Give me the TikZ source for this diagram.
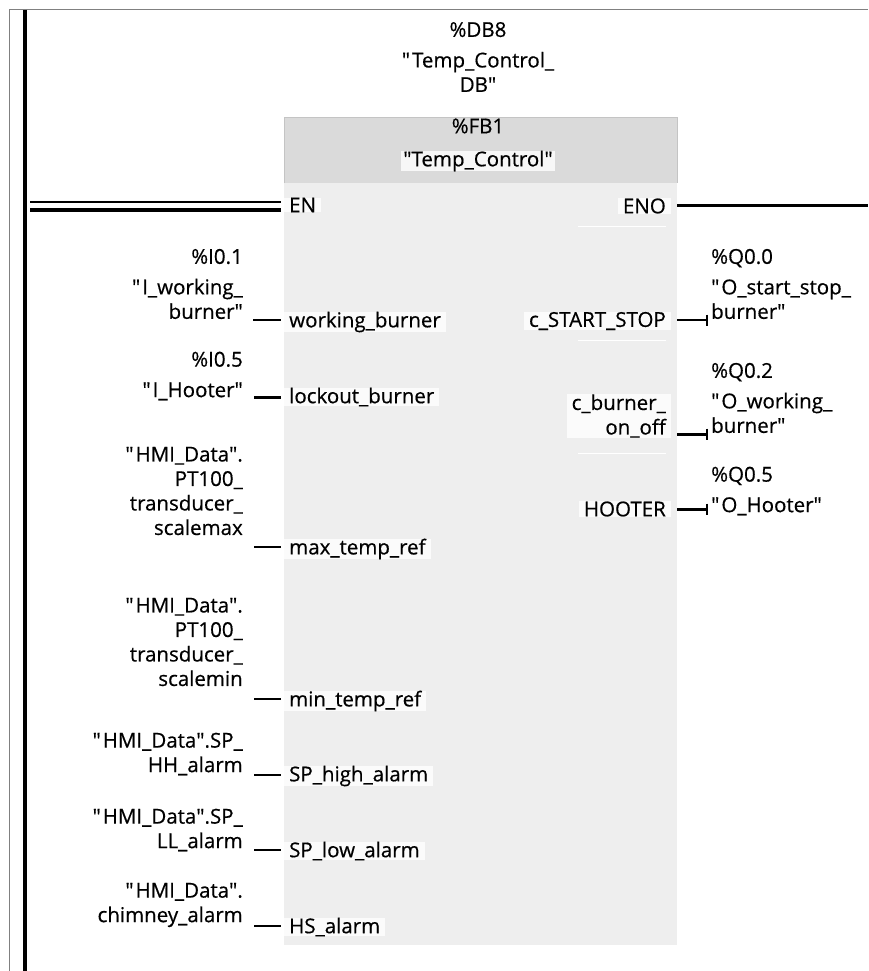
\documentclass[tikz,border=0pt]{standalone}
\usepackage{fontspec}
\setmainfont{Open Sans}[RawFeature={embolden=0.5}]
\definecolor{bodyc}{HTML}{EEEEEE}
\definecolor{headc}{HTML}{DADADA}
\definecolor{framec}{HTML}{808080}
\definecolor{edgec}{HTML}{C4C4C4}
\newcommand{\qo}{\textquotedbl\hspace{2pt}}
\newcommand{\qc}{\textquotedbl}
\tikzset{
  x=1pt,y=-1pt,
  lbl/.style={font=\fontsize{20.5}{24.5}\selectfont,text=black,inner sep=0pt},
  oper/.style={lbl,align=right,anchor=east},
  operr/.style={lbl,align=left,anchor=west},
  pinl/.style={lbl,anchor=west,fill=white,inner xsep=5pt,inner ysep=0pt,fill opacity=.8,text opacity=1},
  pinr/.style={lbl,align=right,anchor=east,fill=white,inner xsep=5pt,inner ysep=0pt,fill opacity=.8,text opacity=1},
  thinw/.style={line width=1.2pt},
  medw/.style={line width=2.4pt},
  thickw/.style={line width=3pt},
  endbar/.style={line width=2.5pt},
}
\begin{document}
\begin{tikzpicture}
\useasboundingbox (0,0) rectangle (868,971);
\fill[white] (0,0) rectangle (868,971);
% frame and rail
\draw[framec,line width=1pt] (9.5,971) -- (9.5,9.5) -- (868,9.5);
\draw[black,line width=4pt] (24.5,10) -- (24.5,971);
% block
\fill[bodyc] (284,183) rectangle (677,945);
\fill[headc] (284,117) rectangle (677,183);
\draw[edgec,line width=.8pt] (284,183) -- (284,117) -- (677,117) -- (677,183);
\foreach \yy in {226,340,453} \draw[white,line width=1pt] (578,\yy) -- (666,\yy);
% titles
\node[lbl,align=center,anchor=center] (db) at (478,57) {\%DB8\\[6pt]\qo Temp\_Control\_\\DB\qc};
\node[lbl,anchor=center] (fbn) at (478,126) {\%FB1};
\node[lbl,anchor=center,fill=white,fill opacity=.8,text opacity=1,inner xsep=2pt] (fbt) at (478,161) {\qc Temp\_Control\qc};
% pins left
\node[pinl] (en) at (284,205) {EN};
\node[pinl] (p1) at (284,322) {working\_burner};
\node[pinl] (p2) at (284,397) {lockout\_burner};
\node[pinl] (p3) at (284,549) {max\_temp\_ref};
\node[pinl] (p4) at (284,701) {min\_temp\_ref};
\node[pinl] (p5) at (284,776) {SP\_high\_alarm};
\node[pinl] (p6) at (284,851) {SP\_low\_alarm};
\node[pinl] (p7) at (284,927) {HS\_alarm};
% pins right
\node[pinr] (eno) at (671,206) {ENO};
\node[pinr] (q1) at (671,321) {c\_START\_STOP};
\node[pinr] (q2) at (671,416) {c\_burner\_\\on\_off};
\node[pinr] (q3) at (671,509) {HOOTER};
% operands left
\node[oper] (o1) at (243,284) {\%I0.1\\[6pt]\qo I\_working\_\\burner\qc};
\node[oper] (o2) at (243,376) {\%I0.5\\[6pt]\qo I\_Hooter\qc};
\node[oper] (o3) at (243,491) {\qo HMI\_Data\qc .\\PT100\_\\transducer\_\\scalemax};
\node[oper] (o4) at (243,642) {\qo HMI\_Data\qc .\\PT100\_\\transducer\_\\scalemin};
\node[oper] (o5) at (243,754) {\qo HMI\_Data\qc .SP\_\\HH\_alarm};
\node[oper] (o6) at (243,830) {\qo HMI\_Data\qc .SP\_\\LL\_alarm};
\node[oper] (o7) at (243,905) {\qo HMI\_Data\qc .\\chimney\_alarm};
% operands right
\node[operr] (r1) at (711,284) {\%Q0.0\\[6pt]\qo O\_start\_stop\_\\burner\qc};
\node[operr] (r2) at (711,398) {\%Q0.2\\[6pt]\qo O\_working\_\\burner\qc};
\node[operr] (r3) at (711,491) {\%Q0.5\\[6pt]\qo O\_Hooter\qc};
% free ends
\coordinate (enoend) at (868,205);
\coordinate (enostart) at (677,205);
\coordinate (w1) at (253,320);
\coordinate (w2) at (254,397);
\coordinate (w3) at (254,547);
\coordinate (w4) at (254,699);
\coordinate (w5) at (254,775);
\coordinate (w6) at (254,850);
\coordinate (w7) at (254,926);
\coordinate (e1) at (707,320);
\coordinate (e2) at (707,434);
\coordinate (e3) at (707,509);
% connectors
\draw[line width=1.5pt] (30,202) -- (281,202);
\draw[line width=3.5pt] (30,210) -- (281,210);
\draw[thickw] (enostart) -- (enoend);
\draw[thinw] (w1) -- ++(28,0);
\draw[thickw] (w2) -- ++(27,0);
\draw[medw] (w3) -- ++(27,0);
\draw[thinw] (w4) -- ++(27,0);
\draw[medw] (w5) -- ++(27,0);
\draw[medw] (w6) -- ++(27,0);
\draw[medw] (w7) -- ++(27,0);
\draw[thinw] (677,320) -- (e1);
\draw[thickw] (677,434) -- (e2);
\draw[thickw] (677,509) -- (e3);
\foreach \e in {e1,e2,e3} \draw[endbar] ([yshift=5.5pt]\e) -- ([yshift=-5.5pt]\e);
\end{tikzpicture}
\end{document}
